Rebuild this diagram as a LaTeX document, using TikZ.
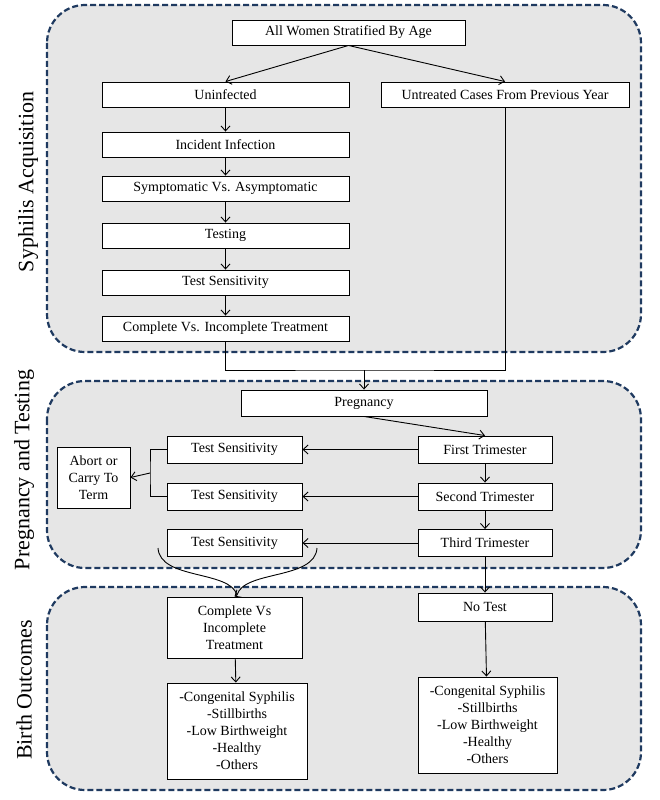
\documentclass[tikz,border=0pt]{standalone}
\usepackage{fontspec}
\setmainfont{Liberation Serif}
\usetikzlibrary{arrows.meta}
\definecolor{panelblue}{HTML}{1F3A60}
\definecolor{panelgray}{HTML}{E6E6E6}
\tikzset{>={Straight Barb[length=5pt,width=9pt]}}
\tikzstyle{panel}=[draw=panelblue,fill=panelgray,dashed,dash pattern=on 6pt off 3pt,line width=2.2pt,rounded corners=38pt]
\tikzstyle{box}=[draw=black,fill=white,line width=0.9pt,inner sep=1pt,align=center,font=\fontsize{14}{17}\selectfont]
\tikzstyle{side}=[rotate=90,font=\fontsize{22}{26}\selectfont]
\tikzstyle{link}=[->,draw=black,line width=0.9pt]
\tikzstyle{plain}=[-,draw=black,line width=0.9pt]

\begin{document}
\begin{tikzpicture}[x=1pt,y=-1pt]
	\useasboundingbox (0,0) rectangle (659,800);
	% panels
	\draw [style=panel] (47,5) rectangle (641,352);
	\draw [style=panel] (47,381) rectangle (641,568);
	\draw [style=panel] (47,587) rectangle (641,790);
	\node [style=side] (s1) at (28,182) {Syphilis Acquisition};
	\node [style=side] (s2) at (24,470) {Pregnancy and Testing};
	\node [style=side] (s3) at (24,690) {Birth Outcomes};

	% acquisition
	\node [style=box, minimum width=233pt, minimum height=25pt] (0) at (348.5,32.5) {All Women Stratified By Age};
	\node [style=box, minimum width=247pt, minimum height=25pt] (1) at (225.5,94.5) {Uninfected};
	\node [style=box, minimum width=248pt, minimum height=25pt] (2) at (505,94.5) {Untreated Cases From Previous Year};
	\node [style=box, minimum width=247pt, minimum height=25pt] (3) at (225.5,144.5) {Incident Infection};
	\node [style=box, minimum width=247pt, minimum height=25pt] (4) at (225.5,188.5) {Symptomatic Vs. Asymptomatic};
	\node [style=box, minimum width=247pt, minimum height=25pt] (5) at (225.5,235.5) {Testing};
	\node [style=box, minimum width=247pt, minimum height=25pt] (6) at (225.5,282.5) {Test Sensitivity};
	\node [style=box, minimum width=247pt, minimum height=25pt] (7) at (225.5,328.5) {Complete Vs. Incomplete Treatment};

	% pregnancy and testing
	\node [style=box, minimum width=246pt, minimum height=26pt] (8) at (364,403) {Pregnancy};
	\node [style=box, minimum width=134pt, minimum height=27pt] (9) at (485,449.5) {First Trimester};
	\node [style=box, minimum width=134pt, minimum height=27pt] (10) at (485,496.5) {Second Trimester};
	\node [style=box, minimum width=134pt, minimum height=27pt] (11) at (485,543) {Third Trimester};
	\node [style=box, minimum width=135pt, minimum height=27pt] (12) at (234.5,449.5) {Test Sensitivity};
	\node [style=box, minimum width=135pt, minimum height=27pt] (13) at (234.5,496.5) {Test Sensitivity};
	\node [style=box, minimum width=135pt, minimum height=27pt] (14) at (234.5,543) {Test Sensitivity};
	\node [style=box, minimum width=73pt, minimum height=61pt] (15) at (93.5,477.5) {Abort or\\Carry To\\Term};
	\coordinate (j) at (150,473);
	\coordinate (m) at (364,370);
	\coordinate (b) at (237,595);

	% birth outcomes
	\node [style=box, minimum width=135pt, minimum height=61pt] (16) at (234.5,627.5) {Complete Vs\\Incomplete\\Treatment};
	\node [style=box, minimum width=134pt, minimum height=28pt] (17) at (485,607) {No Test};
	\node [style=box, minimum width=140pt, minimum height=96pt] (18) at (237,731) {-Congenital Syphilis\\-Stillbirths\\-Low Birthweight\\-Healthy\\-Others};
	\node [style=box, minimum width=139pt, minimum height=96pt] (19) at (487.5,725) {-Congenital Syphilis\\-Stillbirths\\-Low Birthweight\\-Healthy\\-Others};

	% connectors
	\draw [style=link] (0.south) to (1.north);
	\draw [style=link] (0.south) to (2.north);
	\draw [style=link] (1) to (3);
	\draw [style=link] (3) to (4);
	\draw [style=link] (4) to (5);
	\draw [style=link] (5) to (6);
	\draw [style=link] (6) to (7);
	\draw [style=plain] (7.south) |- (m) -| (2.south);
	\draw [style=link] (m) to (8.north);
	\draw [style=link] (8.south) to (9.north);
	\draw [style=link] (9) to (10);
	\draw [style=link] (10) to (11);
	\draw [style=link] (9) to (12);
	\draw [style=link] (10) to (13);
	\draw [style=link] (11) to (14);
	\draw [style=plain] (12.west) -| (j) |- (13.west);
	\draw [style=link] (j) to (15.east);
	\draw [style=plain] (158,548) .. controls (160,580) and (230,570) .. (b);
	\draw [style=plain] (317,548) .. controls (315,580) and (244,570) .. (b);
	\draw [style=link] (b) to (16.north);
	\draw [style=link] (11) to (17);
	\draw [style=link] (16) to (18);
	\draw [style=link] (17) to (19);
\end{tikzpicture}
\end{document}
